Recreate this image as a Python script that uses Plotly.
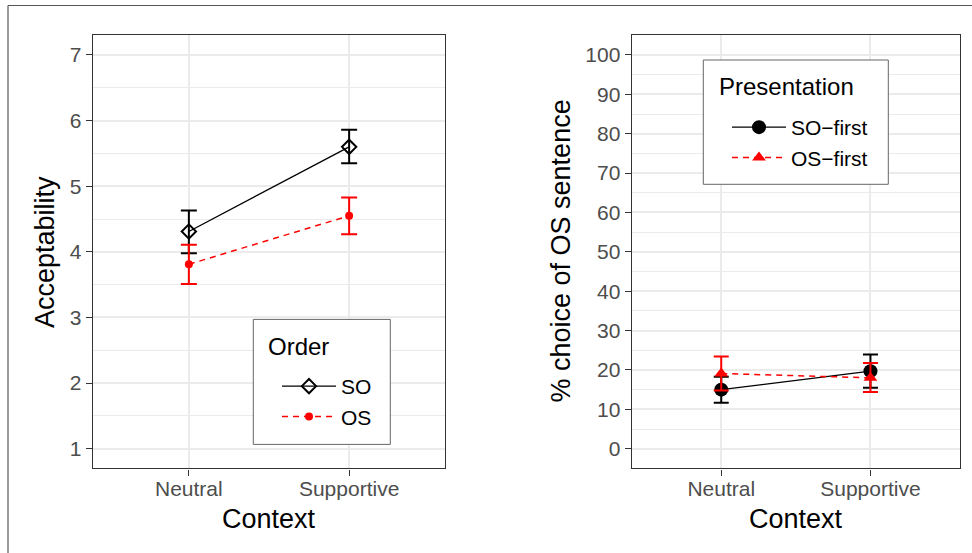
import plotly.graph_objects as go

# ---------------- data ----------------
contexts = ["Neutral", "Supportive"]

# Left panel: Acceptability by word order
so_acc = [4.31, 5.60]
so_acc_hi = [4.63, 5.86]
so_acc_lo = [3.98, 5.35]
os_acc = [3.81, 4.55]
os_acc_hi = [4.11, 4.83]
os_acc_lo = [3.51, 4.27]

# Right panel: % choice of OS sentence by presentation
so_first = [15.0, 19.7]
so_first_hi = [18.3, 23.9]
so_first_lo = [11.7, 15.5]
os_first = [19.1, 18.0]
os_first_hi = [23.4, 21.8]
os_first_lo = [14.8, 14.4]

left_ticks = [1, 2, 3, 4, 5, 6, 7]
right_ticks = [0, 10, 20, 30, 40, 50, 60, 70, 80, 90, 100]

W, H = 972, 553
FONT = "Liberation Sans, Arial, sans-serif"


def px_x(p):
    return p / W


def px_y(p):
    return 1 - p / H


def err(vals, hi, lo):
    return dict(type="data", symmetric=False,
                array=[h - v for h, v in zip(hi, vals)],
                arrayminus=[v - l for v, l in zip(vals, lo)])


fig = go.Figure()

# left panel traces
e = err(so_acc, so_acc_hi, so_acc_lo)
e.update(color="black", thickness=2, width=8)
fig.add_trace(go.Scatter(
    x=contexts, y=so_acc, name="SO", mode="lines+markers",
    line=dict(color="black", width=1.3),
    marker=dict(symbol="diamond-open", size=11, color="black", line=dict(width=2, color="black")),
    error_y=e, xaxis="x", yaxis="y", legend="legend"))
e = err(os_acc, os_acc_hi, os_acc_lo)
e.update(color="#FF0000", thickness=2, width=8)
fig.add_trace(go.Scatter(
    x=contexts, y=os_acc, name="OS", mode="lines+markers",
    line=dict(color="#FF0000", width=1.5, dash="6px,5px"),
    marker=dict(symbol="circle", size=8, color="#FF0000"),
    error_y=e, xaxis="x", yaxis="y", legend="legend"))

# right panel traces
e = err(so_first, so_first_hi, so_first_lo)
e.update(color="black", thickness=2, width=7.5)
fig.add_trace(go.Scatter(
    x=contexts, y=so_first, name="SO\u2212first", mode="lines+markers",
    line=dict(color="black", width=1.3),
    marker=dict(symbol="circle", size=14, color="black"),
    error_y=e, xaxis="x2", yaxis="y2", legend="legend2"))
e = err(os_first, os_first_hi, os_first_lo)
e.update(color="#FF0000", thickness=2, width=7.5)
fig.add_trace(go.Scatter(
    x=contexts, y=os_first, name="OS\u2212first", mode="lines+markers",
    line=dict(color="#FF0000", width=1.5, dash="6px,5px"),
    marker=dict(symbol="triangle-up", size=12, color="#FF0000"),
    error_y=e, xaxis="x2", yaxis="y2", legend="legend2"))

grid = "#EBEBEB"
axcol = "#333333"

xcommon = dict(type="category", range=[-0.6, 1.6], showgrid=True, gridcolor=grid, gridwidth=2,
               showline=True, linecolor=axcol, linewidth=1.3, mirror=True,
               ticks="outside", ticklen=6, tickwidth=1.3, tickcolor=axcol, ticklabelstandoff=-5,
               tickfont=dict(size=21, color="#4D4D4D", family=FONT), zeroline=False,
               automargin=False, fixedrange=True)
ycommon = dict(showgrid=True, gridcolor=grid, gridwidth=2,
               showline=True, linecolor=axcol, linewidth=1.3, mirror=True,
               ticks="outside", ticklen=6, tickwidth=1.3, tickcolor=axcol,
               tickfont=dict(size=21, color="#4D4D4D", family=FONT), zeroline=False,
               automargin=False, fixedrange=True)

ydom = [px_y(468.4), px_y(35.3)]

leg_common = dict(xanchor="left", yanchor="top", bgcolor="rgba(0,0,0,0)", borderwidth=0,
                  font=dict(size=21, color="black", family=FONT), itemwidth=54, indentation=0)

fig.update_layout(
    width=W, height=H,
    margin=dict(l=0, r=0, t=0, b=0),
    paper_bgcolor="white", plot_bgcolor="white",
    font=dict(family=FONT, color="black"),
    xaxis=dict(domain=[px_x(92.7), px_x(445.3)], anchor="y", **xcommon),
    yaxis=dict(domain=ydom, anchor="x", range=[0.7, 7.3], tickvals=left_ticks,
               minor=dict(dtick=0.5, tick0=0.5, showgrid=True, gridcolor=grid, gridwidth=1.2, ticks=""),
               **ycommon),
    xaxis2=dict(domain=[px_x(631.7), px_x(960)], anchor="y2", **xcommon),
    yaxis2=dict(domain=ydom, anchor="x2", range=[-5, 105], tickvals=right_ticks,
                minor=dict(dtick=5, tick0=5, showgrid=True, gridcolor=grid, gridwidth=1.2, ticks=""),
                **ycommon),
    legend=dict(x=px_x(277), y=px_y(366), **leg_common),
    legend2=dict(x=px_x(727), y=px_y(107), **leg_common),
    showlegend=True,
)

# legend boxes
fig.add_shape(type="rect", xref="paper", yref="paper", layer="above",
              x0=px_x(253.3), x1=px_x(390.3), y0=px_y(444.4), y1=px_y(319.4),
              fillcolor="white", line=dict(color="#666666", width=1))
fig.add_shape(type="rect", xref="paper", yref="paper", layer="above",
              x0=px_x(703.3), x1=px_x(888.3), y0=px_y(184.3), y1=px_y(60),
              fillcolor="white", line=dict(color="#666666", width=1))

# legend titles
fig.add_annotation(text="Order", x=px_x(265.5), y=px_y(346.7), xref="paper", yref="paper",
                   xanchor="left", yanchor="middle", showarrow=False,
                   font=dict(size=24, color="black", family=FONT))
fig.add_annotation(text="Presentation", x=px_x(716.5), y=px_y(86.7), xref="paper", yref="paper",
                   xanchor="left", yanchor="middle", showarrow=False,
                   font=dict(size=24, color="black", family=FONT))

# axis titles
fig.add_annotation(text="Context", x=px_x(269), y=px_y(518.7), xref="paper", yref="paper",
                   xanchor="center", yanchor="middle", showarrow=False,
                   font=dict(size=27, color="black", family=FONT))
fig.add_annotation(text="Context", x=px_x(796), y=px_y(518.7), xref="paper", yref="paper",
                   xanchor="center", yanchor="middle", showarrow=False,
                   font=dict(size=27, color="black", family=FONT))
fig.add_annotation(text="Acceptability", x=px_x(45), y=px_y(252), xref="paper", yref="paper",
                   xanchor="center", yanchor="middle", showarrow=False, textangle=-90,
                   font=dict(size=27, color="black", family=FONT))
fig.add_annotation(text="% choice of OS sentence", x=px_x(560), y=px_y(251.5), xref="paper", yref="paper",
                   xanchor="center", yanchor="middle", showarrow=False, textangle=-90,
                   font=dict(size=27, color="black", family=FONT))

# outer frame (left and top edges visible in the reference)
fig.add_shape(type="line", xref="paper", yref="paper", x0=px_x(8), x1=px_x(8), y0=0, y1=px_y(5.5),
              line=dict(color="#555555", width=1.2))
fig.add_shape(type="line", xref="paper", yref="paper", x0=px_x(8), x1=1, y0=px_y(5.5), y1=px_y(5.5),
              line=dict(color="#555555", width=1.2))

fig.write_html("out.html")
